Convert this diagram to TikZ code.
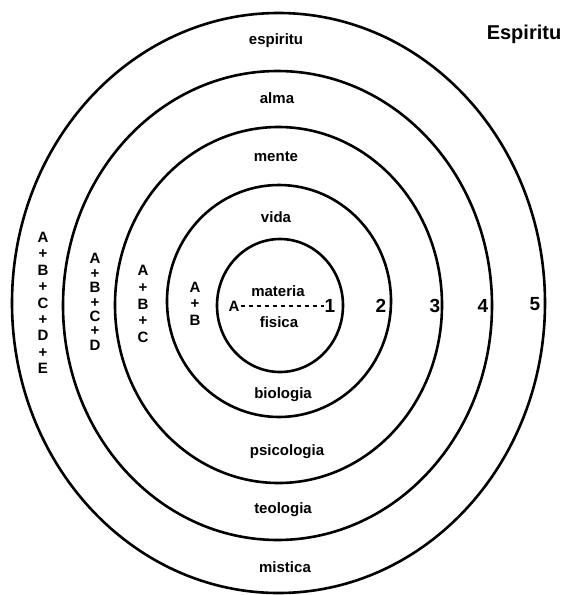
\documentclass[tikz,border=0pt]{standalone}
\usepackage{fontspec}
\setmainfont{Liberation Sans}
\begin{document}
\begin{tikzpicture}[x=1pt,y=-1pt,
  ring/.style={line width=2.6pt},
  lbl/.style={font=\fontsize{15}{16}\selectfont\bfseries, inner sep=1pt},
  num/.style={font=\fontsize{19}{19}\selectfont\bfseries, inner sep=1pt},
  stack/.style={align=center, inner sep=1pt}]
\useasboundingbox (0,0) rectangle (570,595);
% rings
\coordinate (c5) at (278.5,303);
\coordinate (c4) at (277.5,305.5);
\coordinate (c3) at (278.5,305);
\coordinate (c2) at (279,301);
\coordinate (c1) at (280,305.5);
\draw[ring] (c5) ellipse [x radius=266.5pt, y radius=290pt];
\draw[ring] (c4) ellipse [x radius=214.5pt, y radius=234.5pt];
\draw[ring] (c3) ellipse [x radius=163.5pt, y radius=178pt];
\draw[ring] (c2) ellipse [x radius=112pt, y radius=116pt];
\draw[ring] (c1) ellipse [x radius=63pt, y radius=66.5pt];
% labels
\node[lbl] (espl) at (276,41) {espiritu};
\node[lbl] (alma) at (277,98) {alma};
\node[lbl] (mente) at (276,157) {mente};
\node[lbl] (vida) at (276,217) {vida};
\node[lbl] (materia) at (278,291) {materia};
\node[lbl] (fisica) at (279,322) {fisica};
\node[lbl] (biologia) at (283,395) {biologia};
\node[lbl] (psicologia) at (287,452) {psicologia};
\node[lbl] (teologia) at (283,510) {teologia};
\node[lbl] (mistica) at (285,567) {mistica};
% title
\node[font=\fontsize{20}{20}\selectfont\bfseries, inner sep=1pt] (Espiritu) at (524,34) {Espiritu};
% center line
\node[lbl] (A) at (234,306) {A};
\node[num] (one) at (330,306) {1};
\draw[line width=1.3pt, dash pattern=on 4pt off 4pt] (A.east) -- (one.west);
% numbers
\node[num] (two) at (381,306) {2};
\node[num] (three) at (435,306) {3};
\node[num] (four) at (483,306) {4};
\node[num] (five) at (535,304) {5};
% stacks
\node[stack, font=\fontsize{15}{16.4}\selectfont\bfseries] (s5) at (43,303) {A\\+\\B\\+\\C\\+\\D\\+\\E};
\node[stack, font=\fontsize{15}{14.4}\selectfont\bfseries] (s4) at (95,302) {A\\+\\B\\+\\C\\+\\D};
\node[stack, font=\fontsize{15}{16.8}\selectfont\bfseries] (s3) at (143,304) {A\\+\\B\\+\\C};
\node[stack, font=\fontsize{15}{16.5}\selectfont\bfseries] (s2) at (195,303.5) {A\\+\\B};
\end{tikzpicture}
\end{document}
